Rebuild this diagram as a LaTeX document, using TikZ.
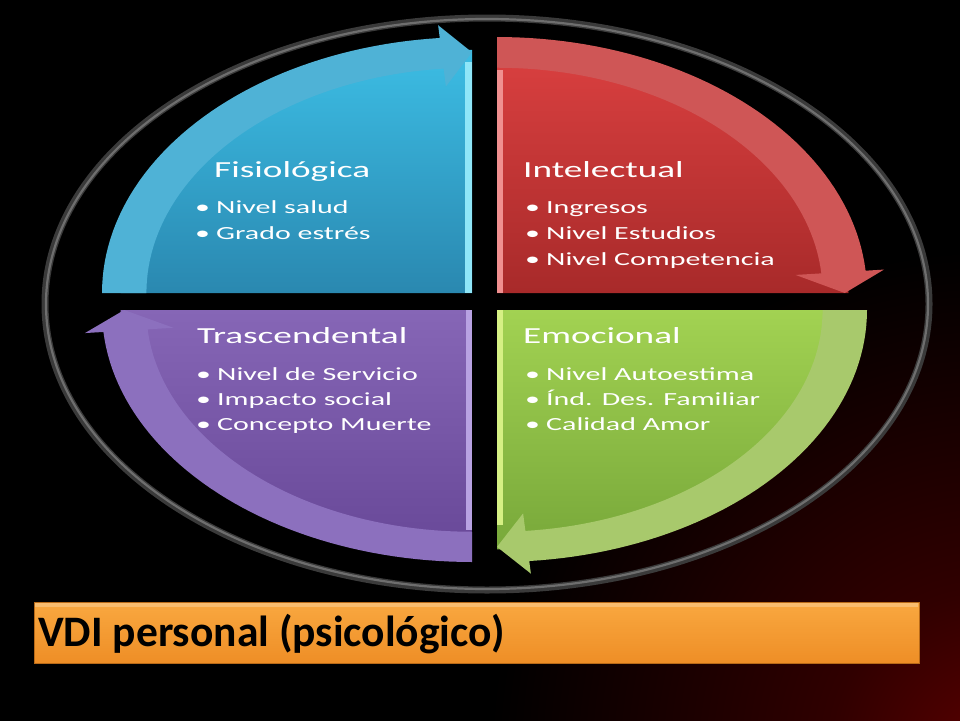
\documentclass[tikz,border=0pt]{standalone}
\usepackage{fontspec}
\setmainfont{Carlito}
\newfontfamily\quadfont[FakeStretch=1.62]{Carlito}
\definecolor{bgred}{HTML}{580000}
\definecolor{bgmid}{HTML}{300000}
\definecolor{ringdark}{HTML}{3A3A3A}
\definecolor{ringlight}{HTML}{6E6E6E}
\definecolor{blueA}{HTML}{3CBDE4}
\definecolor{blueB}{HTML}{2A88B0}
\definecolor{blueBand}{HTML}{4FB2D6}
\definecolor{blueStrip}{HTML}{8FE6F8}
\definecolor{redA}{HTML}{DA4040}
\definecolor{redB}{HTML}{A82A2A}
\definecolor{redBand}{HTML}{CF5656}
\definecolor{redStrip}{HTML}{F09090}
\definecolor{greenA}{HTML}{A2D252}
\definecolor{greenB}{HTML}{78A83A}
\definecolor{greenBand}{HTML}{A8C96C}
\definecolor{greenStrip}{HTML}{D6F084}
\definecolor{purpA}{HTML}{8666B6}
\definecolor{purpB}{HTML}{684898}
\definecolor{purpBand}{HTML}{8C70BE}
\definecolor{purpStrip}{HTML}{B8A2E2}
\definecolor{barA}{HTML}{F9A840}
\definecolor{barB}{HTML}{EE8E26}
\definecolor{barEdge}{HTML}{B86A18}
\pgfdeclareradialshading{bgshade}{\pgfpoint{0bp}{0bp}}{color(0bp)=(bgred); color(8bp)=(bgmid); color(25bp)=(black); color(50bp)=(black)}
% #1 corner, #2 rx, #3 ry, #4 start angle, #5 end angle (tip), #6 top colour, #7 bottom colour
\newcommand\vdibody[7]{%
  \begin{scope}[shift={#1},x=#2pt,y=#3pt]
    \shade[top color=#6,bottom color=#7] (0,0) -- plot[domain=#4:#5,samples=50] ({0.95*cos(\x)},{0.95*sin(\x)}) -- cycle;
  \end{scope}}
% #1 corner, #2 rx, #3 ry, #4 start angle, #5 head base angle, #6 tip angle, #7 colour
\newcommand\vdiband[7]{%
  \begin{scope}[shift={#1},x=#2pt,y=#3pt]
    \fill[#7] plot[domain=#4:#5,samples=50] ({cos(\x)},{sin(\x)})
      -- ({1.05*cos(#5)},{1.05*sin(#5)})
      -- ({0.94*cos(#6)},{0.94*sin(#6)})
      -- ({0.81*cos(#5)},{0.81*sin(#5)})
      -- ({0.88*cos(#5)},{0.88*sin(#5)})
      -- plot[domain=#5:#4,samples=50] ({0.88*cos(\x)},{0.88*sin(\x)}) -- cycle;
  \end{scope}}
\tikzset{
  qhead/.style={anchor=base west,text=white,inner sep=0pt,font=\quadfont\fontsize{23}{26}\selectfont},
  qitem/.style={anchor=base west,text=white,inner sep=0pt,font=\quadfont\fontsize{18.5}{22}\selectfont},
}
\newcommand\bul[1]{\makebox[17pt][l]{\hspace{-4pt}\textbullet}#1}
\begin{document}
\begin{tikzpicture}[x=1pt,y=-1pt]
\useasboundingbox (0,0) rectangle (960,720);
% background
\fill[black] (-5,-5) rectangle (965,725);
\shade[shading=bgshade] (990,750) circle (500pt);
% ring
\draw[ringdark,line width=7pt] (487,304) ellipse [x radius=442pt,y radius=286pt];
\draw[ringlight,line width=2.2pt] (487,304) ellipse [x radius=441pt,y radius=285pt];
% bodies
\vdibody{(472,293)}{370}{256}{180}{90}{blueA}{blueB}
\vdibody{(497,293)}{370}{256}{90}{0}{redA}{redB}
\vdibody{(497,310)}{370}{252}{0}{-90}{greenA}{greenB}
\vdibody{(472,310)}{370}{252}{-90}{-180}{purpA}{purpB}
% bevel strips
\fill[blueStrip] (465,62) rectangle (472,293);
\fill[redStrip] (497,70) rectangle (503,293);
\fill[greenStrip] (497,310) rectangle (503,525);
\fill[purpStrip] (466,310) rectangle (472,530);
% arrow bands
\vdiband{(472,293)}{370}{256}{180}{95}{90}{blueBand}
\vdiband{(497,293)}{370}{256}{90}{5}{0}{redBand}
\vdiband{(497,310)}{370}{252}{0}{-85}{-90}{greenBand}
\vdiband{(472,310)}{370}{252}{-90}{-175}{-180}{purpBand}
% texts
\node[qhead] (fis) at (214,177) {Fisiológica};
\node[qitem] (fis1) at (199,213) {\bul{Nivel salud}};
\node[qitem] (fis2) at (199,239) {\bul{Grado estrés}};
\node[qhead] (int) at (523,177) {Intelectual};
\node[qitem] (int1) at (529,213) {\bul{Ingresos}};
\node[qitem] (int2) at (529,239) {\bul{Nivel Estudios}};
\node[qitem] (int3) at (529,265) {\bul{Nivel Competencia}};
\node[qhead] (tra) at (197,343) {Trascendental};
\node[qitem] (tra1) at (200,380) {\bul{Nivel de Servicio}};
\node[qitem] (tra2) at (200,405) {\bul{Impacto social}};
\node[qitem] (tra3) at (200,430) {\bul{Concepto Muerte}};
\node[qhead] (emo) at (523,343) {Emocional};
\node[qitem] (emo1) at (529,380) {\bul{Nivel Autoestima}};
\node[qitem] (emo2) at (529,405) {\bul{Índ. Des. Familiar}};
\node[qitem] (emo3) at (529,430) {\bul{Calidad Amor}};
% title bar
\shade[top color=barA,bottom color=barB,draw=barEdge,line width=0.8pt] (34,602) rectangle (919,663);
\fill[white,opacity=0.25] (35,603) rectangle (918,607);
\node[anchor=base west,inner sep=0pt,text=black,font=\bfseries\fontsize{43.5}{48}\selectfont] (vdi) at (38,646) {VDI personal (psicológico)};
\end{tikzpicture}
\end{document}
